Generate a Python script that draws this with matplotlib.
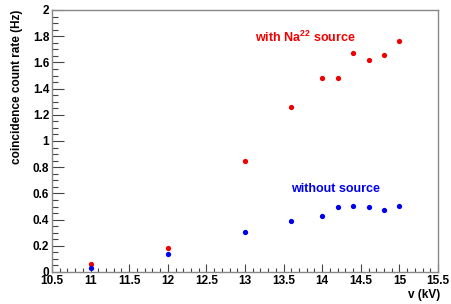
import numpy as np
import matplotlib.pyplot as plt
from matplotlib.ticker import MultipleLocator, FormatStrFormatter

plt.rcParams['font.family'] = ['Liberation Sans', 'DejaVu Sans']
plt.rcParams['font.weight'] = 'bold'
plt.rcParams['mathtext.fontset'] = 'custom'
plt.rcParams['mathtext.rm'] = 'Liberation Sans:bold'
plt.rcParams['mathtext.bf'] = 'Liberation Sans:bold'

# high voltage (kV)
voltage = [11, 12, 13, 13.6, 14, 14.2, 14.4, 14.6, 14.8, 15]
# coincidence rate with Na22 source (Hz)
rate_na22 = [0.06, 0.18, 0.85, 1.26, 1.48, 1.48, 1.67, 1.62, 1.66, 1.76]
# coincidence rate without source (Hz)
rate_bg = [0.03, 0.135, 0.305, 0.39, 0.43, 0.495, 0.505, 0.50, 0.475, 0.505]

fig = plt.figure(figsize=(4.51, 3.04), dpi=100)
ax = fig.add_axes([52 / 451, 1 - 272 / 304, 386 / 451, 262 / 304])

ax.plot(voltage, rate_na22, 'o', color='#f00000', ms=3.8, mec='none')
ax.plot(voltage, rate_bg, 'o', color='#0000f0', ms=3.8, mec='none')

ax.text(13.13, 1.79, r'with Na$^{\mathbf{22}}$ source', color='#f00000', fontsize=9,
        fontweight='bold', va='center')
ax.text(13.6, 0.634, 'without source', color='#0000f0', fontsize=9,
        fontweight='bold', va='center')

ax.set_xlim(10.5, 15.5)
ax.set_ylim(0, 2)
ax.xaxis.set_major_locator(MultipleLocator(0.5))
ax.xaxis.set_minor_locator(MultipleLocator(0.1))
ax.yaxis.set_major_locator(MultipleLocator(0.2))
ax.yaxis.set_minor_locator(MultipleLocator(0.05))
ax.xaxis.set_major_formatter(FormatStrFormatter('%g'))
ax.yaxis.set_major_formatter(FormatStrFormatter('%g'))

ax.tick_params(which='both', direction='in', top=False, right=False,
               labelsize=8.5, color='#444444', width=0.8)
# ROOT style: tick length scales with the opposite pad dimension
ax.tick_params(axis='y', which='major', length=8.6, pad=2)
ax.tick_params(axis='y', which='minor', length=4.3)
ax.tick_params(axis='x', which='major', length=5.7, pad=2)
ax.tick_params(axis='x', which='minor', length=2.9)
for lab in ax.get_xticklabels() + ax.get_yticklabels():
    lab.set_fontweight('bold')

for s in ax.spines.values():
    s.set_color('#888888')
    s.set_linewidth(1.0)

fig.text(17 / 451, 1 - 10 / 304, 'coincidence count rate (Hz)', rotation=90,
         ha='center', va='top', fontsize=8.5, fontweight='bold')
fig.text(440 / 451, 1 - 295 / 304, 'v (kV)', ha='right', va='center',
         fontsize=8.5, fontweight='bold')

fig.savefig('out.png', dpi=100)
